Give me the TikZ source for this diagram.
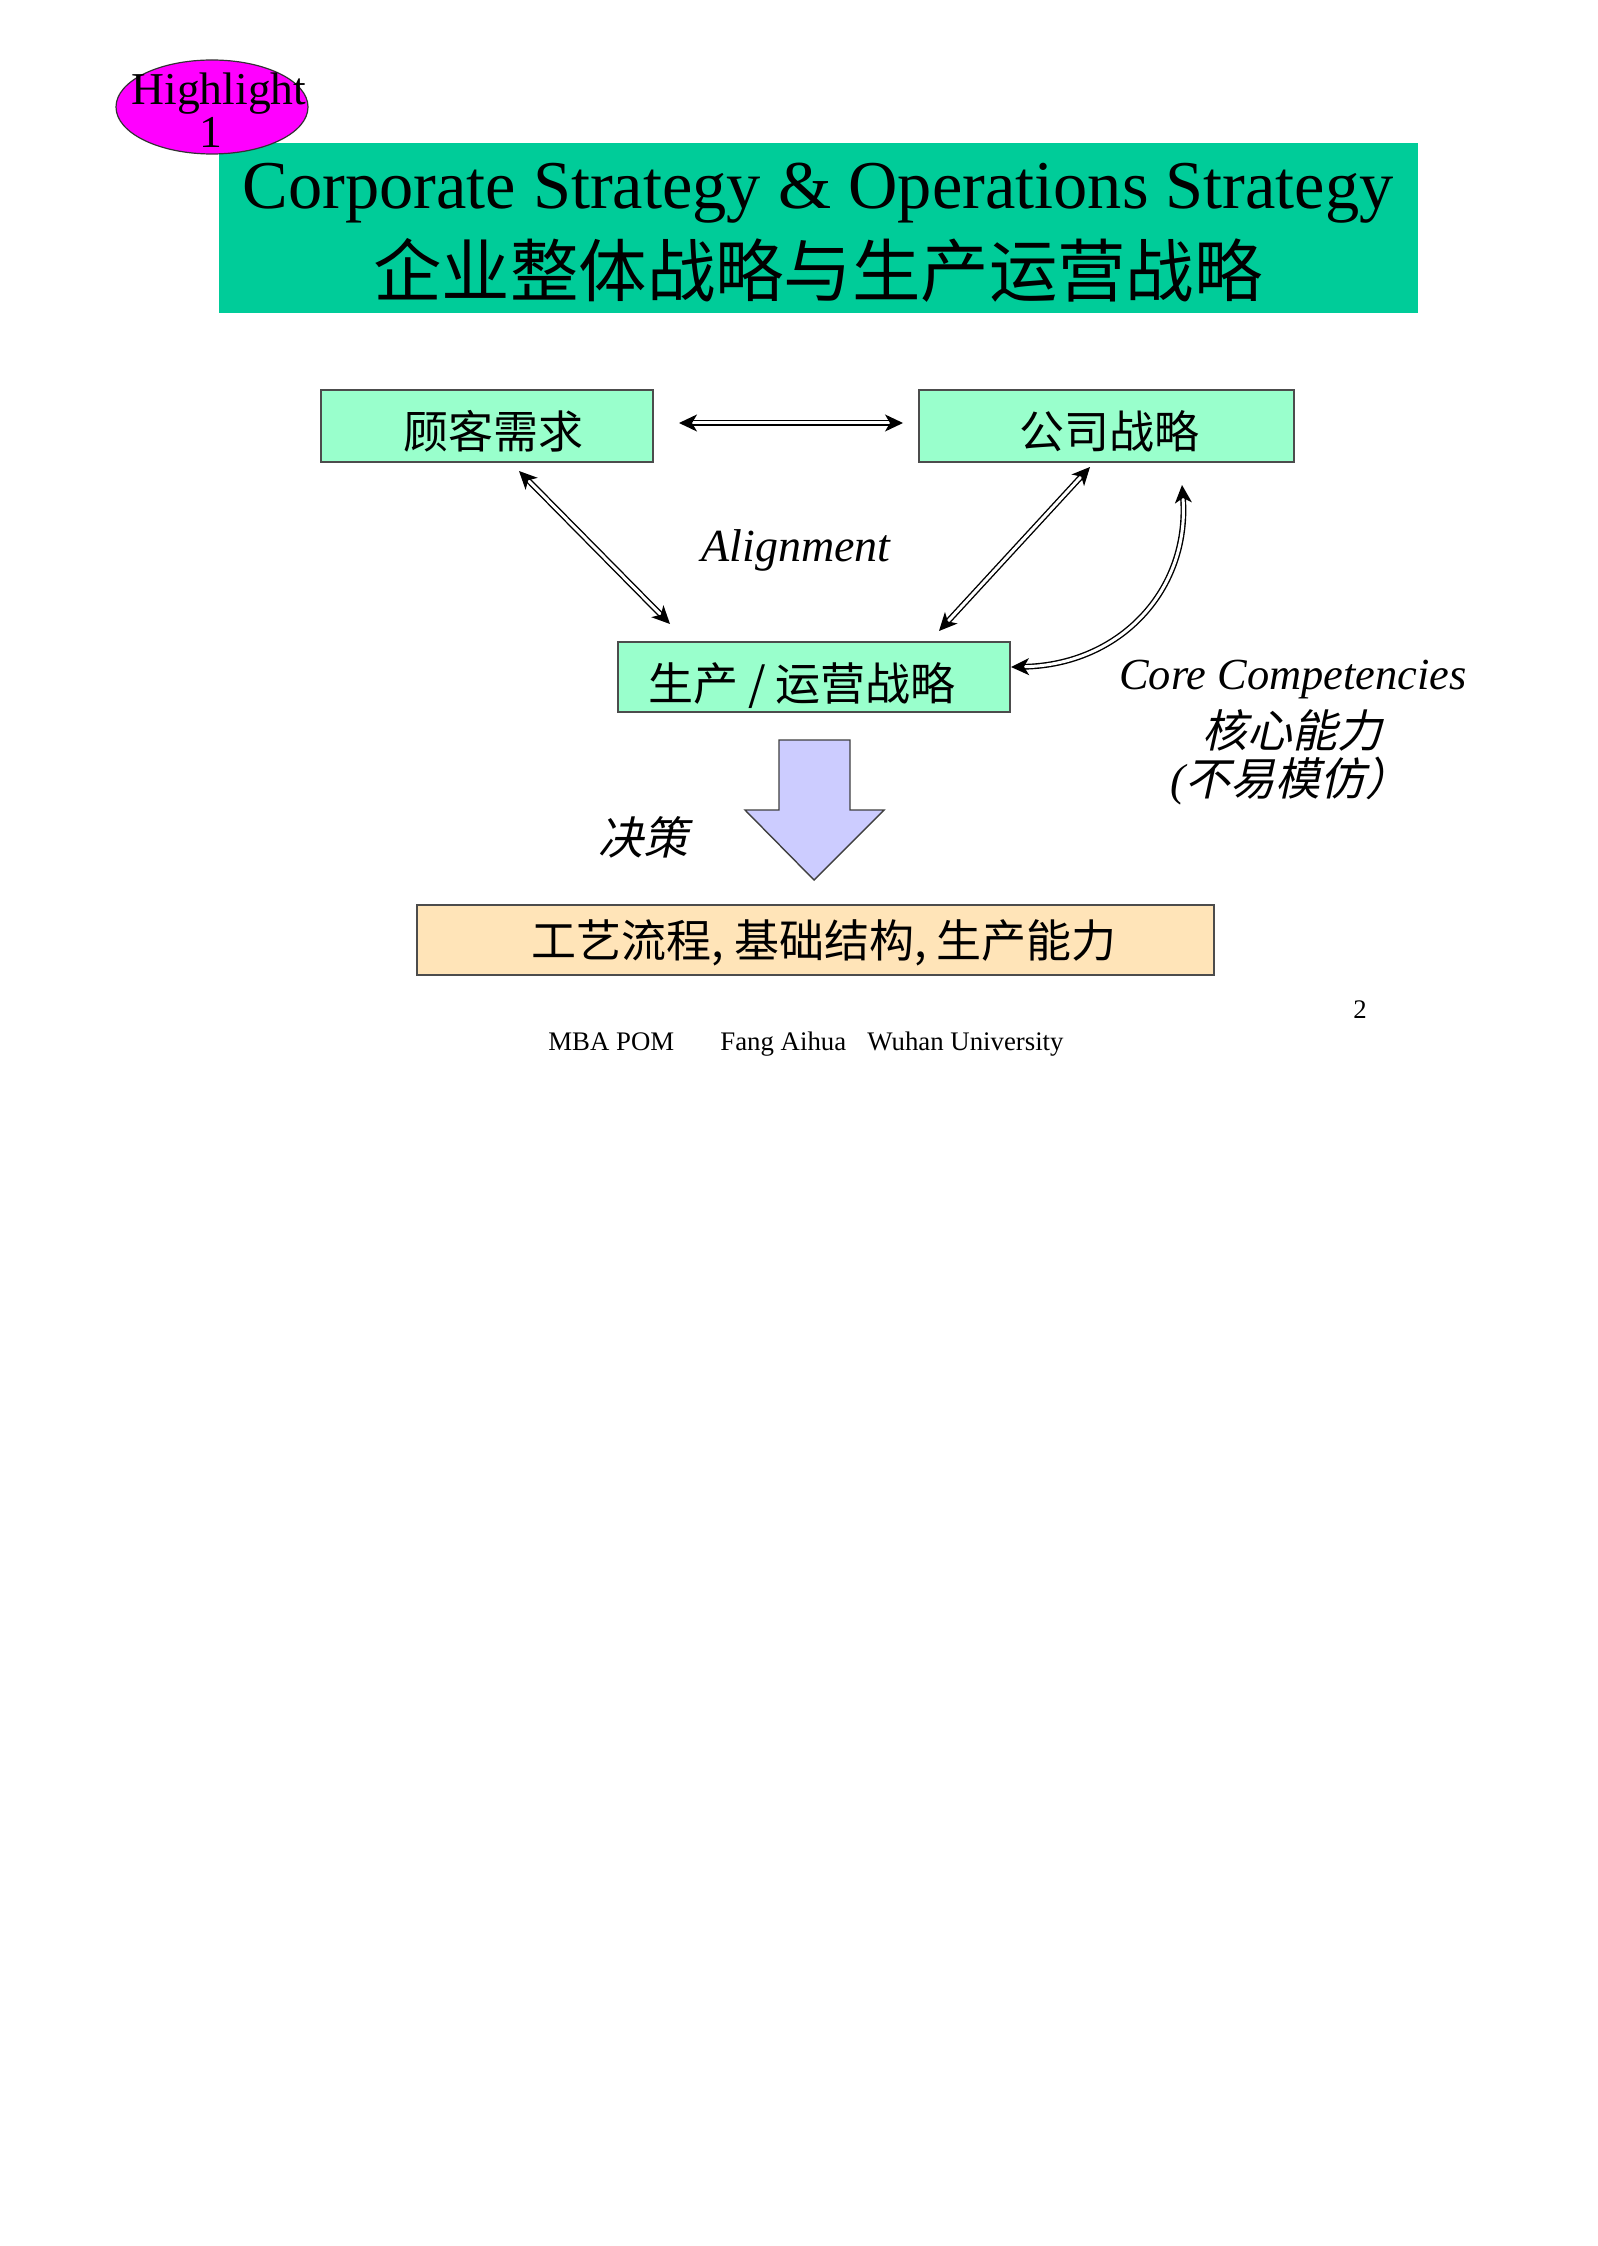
\documentclass[tikz,border=0pt]{standalone}
\usepackage{fontspec}
\setmainfont{Liberation Serif}
\newfontfamily\cjk{Noto Sans CJK SC}
\newfontfamily\cjkit[FakeSlant=0.22]{Noto Sans CJK SC}
\usetikzlibrary{arrows.meta,shapes.geometric}
\definecolor{titlegreen}{RGB}{0,204,153}
\definecolor{boxgreen}{RGB}{153,255,204}
\definecolor{peach}{RGB}{255,228,184}
\definecolor{lav}{RGB}{204,204,255}
\definecolor{mag}{RGB}{255,0,255}
\begin{document}
\begin{tikzpicture}[x=0.5pt,y=-0.5pt,
  fbox/.style={draw=black!70, line width=0.7pt, fill=boxgreen, inner sep=0pt, minimum height=36pt},
  dbl/.style={double=white, double distance=1.5pt, line width=0.7pt,
    {Stealth[length=9pt,width=8.5pt,inset=2.5pt]}-{Stealth[length=9pt,width=8.5pt,inset=2.5pt]}},
  txt/.style={inner sep=0pt, anchor=base}]
\useasboundingbox (0,0) rectangle (1598,2246);
\fill[white] (0,0) rectangle (1598,2246);
% title
\node (title) [fill=titlegreen, inner sep=0pt, minimum width=599.5pt, minimum height=85pt, anchor=north west] at (219,143) {};
\node[txt] (t1) at (818,209) {\fontsize{34.2}{36}\selectfont Corporate Strategy \& Operations Strategy};
\node[txt] (t2) at (818,297) {\fontsize{34.2}{38}\selectfont\cjk 企业整体战略与生产运营战略};
% highlight
\node (hl) [ellipse, draw=black!80, line width=0.6pt, fill=mag, minimum width=96pt, minimum height=47pt, inner sep=0pt] at (212,107) {};
\node[txt] (hl1) at (219,105) {\fontsize{22.8}{24}\selectfont Highlight};
\node[txt] (hl2) at (211,148) {\fontsize{22.8}{24}\selectfont 1};
% boxes
\node (b1) [fbox, minimum width=166pt] at (487,426) {};
\node (b2) [fbox, minimum width=187.5pt] at (1106.5,426) {};
\node (b3) [fbox, minimum width=196pt, minimum height=35pt] at (814,677) {};
\node (b4) [fbox, fill=peach, minimum width=398.5pt, minimum height=35pt] at (815.5,940) {};
\node[txt] (tb1) at (493,449) {\fontsize{22.5}{24}\selectfont\cjk 顾客需求};
\node[txt] (tb2) at (1109,449) {\fontsize{22.5}{24}\selectfont\cjk 公司战略};
\node[txt] (tb3) at (802,700) {\fontsize{22.5}{24}\selectfont\cjk 生产 / 运营战略};
\node[txt] (tb4) at (824,957) {\fontsize{22.5}{24}\selectfont\cjk 工艺流程, 基础结构, 生产能力};
% labels
\node[txt] (align) at (796,561) {\fontsize{23}{24}\selectfont\itshape Alignment};
\node[txt] (core) at (1293,689) {\fontsize{22.2}{24}\selectfont\itshape Core Competencies};
\node[txt] (core2) at (1292,747) {\fontsize{22.5}{24}\selectfont\cjkit 核心能力};
\node[txt] (core3) at (1290,795) {\fontsize{22.5}{24}\selectfont{\itshape (}\cjkit 不易模仿）};
\node[txt] (jc) at (643,854) {\fontsize{22.5}{24}\selectfont\cjkit 决策};
% connectors
\coordinate (h1) at (679,423);
\coordinate (h2) at (903,423);
\coordinate (l1) at (519,471);
\coordinate (l2) at (670,624);
\coordinate (r1) at (1090,467);
\coordinate (r2) at (939,631);
\coordinate (c1) at (1011,667);
\coordinate (c2) at (1182,485);
\draw[dbl] (h1) -- (h2);
\draw[dbl] (l1) -- (l2);
\draw[dbl] (r1) -- (r2);
\draw[dbl] (c1) .. controls (1120,665) and (1190,590) .. (c2);
% big arrow
\draw[draw=black!75, line width=0.7pt, fill=lav] (779,740) -- (850,740) -- (850,810) -- (884,810) -- (814,880) -- (745,810) -- (779,810) -- cycle;
% footer
\node[txt, anchor=base west] (f1) at (548,1050) {\fontsize{13.4}{15}\selectfont MBA POM};
\node[txt, anchor=base west] (f2) at (720,1050) {\fontsize{13.4}{15}\selectfont Fang Aihua};
\node[txt, anchor=base west] (f3) at (867,1050) {\fontsize{13.4}{15}\selectfont Wuhan University};
\node[txt] (pg) at (1360,1018) {\fontsize{13.4}{15}\selectfont 2};
\end{tikzpicture}
\end{document}
